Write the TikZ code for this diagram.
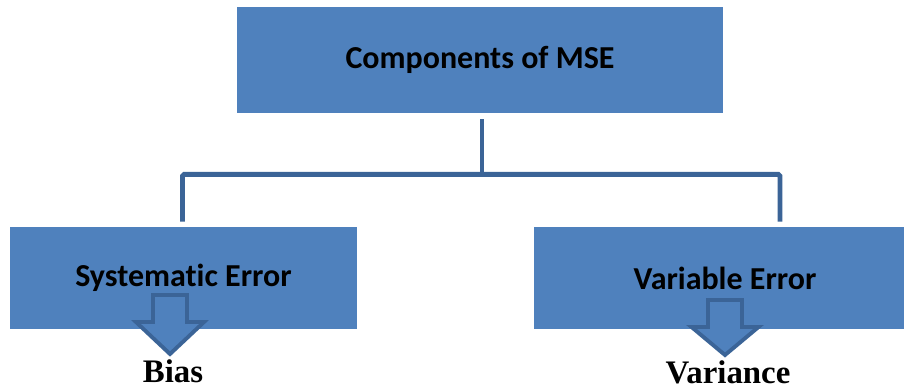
\documentclass[tikz,border=0pt]{standalone}
\usepackage{xcolor}
\usepackage{fontspec}
\usepackage{tikz}
\usetikzlibrary{positioning, arrows.meta}

\newfontfamily\boxfont{Carlito}[Ligatures=NoCommon]
\newfontfamily\capfont{Liberation Serif}
\definecolor{mseblue}{HTML}{4F81BD}
\definecolor{linkblue}{HTML}{3B6497}

\begin{document}
\begin{tikzpicture}[
    bnode/.style={fill=mseblue, draw=none, inner sep=0pt, align=center, font=\boxfont\bfseries\fontsize{18.2}{22}\selectfont},
    link/.style={draw=linkblue, line width=2.8pt, rounded corners=1pt},
    downarr/.style={draw=linkblue, fill=mseblue, line width=2.2pt, line join=miter},
    captext/.style={inner sep=0pt, font=\capfont\bfseries\fontsize{18.7}{20}\selectfont}
]
\useasboundingbox (0,0) rectangle (18.08,-7.78);

\node[bnode, minimum width=9.72cm, minimum height=2.12cm] (mse) at (9.6, -1.2) {Components of MSE};
\node[bnode, minimum width=6.94cm, minimum height=2.04cm] (sys) at (3.67, -5.56) {Systematic Error};
\node[bnode, minimum width=7.4cm, minimum height=2.04cm] (var) at (14.38, -5.56) {\hspace*{0.24cm}Variable Error};

% tree connector
\draw[link] ([xshift=0.04cm, yshift=-0.12cm]mse.south) -- ++(0,-1.1) coordinate (mid);
\draw[link] ([xshift=-0.02cm, yshift=0.1cm]sys.north) |- (mid) -| ([xshift=1.22cm, yshift=0.1cm]var.north);

% down arrows
\coordinate (tipL) at (3.4, -7.08);
\coordinate (tipR) at (14.5, -7.1);
\draw[downarr] (tipL) -- ++(0.68,0.64) -- ++(-0.34,0) -- ++(0,0.54) -- ++(-0.68,0) -- ++(0,-0.54) -- ++(-0.34,0) -- cycle;
\draw[downarr] (tipR) -- ++(0.67,0.56) -- ++(-0.33,0) -- ++(0,0.54) -- ++(-0.68,0) -- ++(0,-0.54) -- ++(-0.33,0) -- cycle;

\node[captext, anchor=base] (bias) at (3.46, -7.64) {Bias};
\node[captext, anchor=base] (vari) at (14.56, -7.66) {Variance};
\end{tikzpicture}
\end{document}
